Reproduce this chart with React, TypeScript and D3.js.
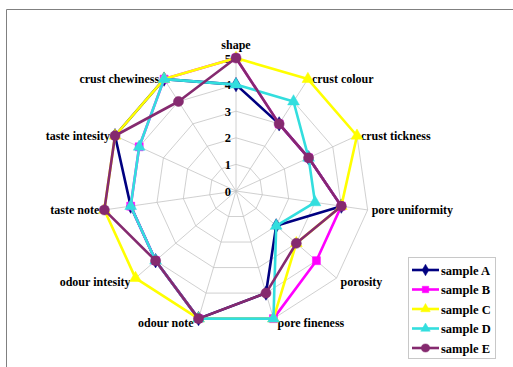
import React from "react";
import * as d3 from "d3";

const axesLabels = [
  "shape",
  "crust colour",
  "crust tickness",
  "pore uniformity",
  "porosity",
  "pore fineness",
  "odour note",
  "odour intesity",
  "taste note",
  "taste intesity",
  "crust chewiness",
];
const seriesNames = ["sample A", "sample B", "sample C", "sample D", "sample E"];
const sampleA = [4, 3, 3, 4, 2, 4, 5, 4, 4, 5, 5];
const sampleB = [5, 3, 3, 4, 4, 5, 5, 4, 4, 4, 5];
const sampleC = [5, 5, 5, 4, 3, 5, 5, 5, 5, 5, 5];
const sampleD = [4, 4, 3, 3, 2, 5, 5, 4, 4, 4, 5];
const sampleE = [5, 3, 3, 4, 3, 4, 5, 4, 5, 5, 4];
const tickValues = [0, 1, 2, 3, 4, 5];

const seriesData = [sampleA, sampleB, sampleC, sampleD, sampleE];
const colors = ["#000080", "#ff00ff", "#ffff00", "#33dede", "#852a6f"];
const markerTypes = ["diamond", "square", "triangle", "triangle", "circle"];

const W = 513;
const H = 367;
const cx = 236;
const cy = 191;
const R = 133;
const FONT = "'Liberation Serif', 'Times New Roman', serif";

const rScale = d3.scaleLinear().domain([0, 5]).range([0, R]);
const aScale = d3
  .scaleLinear()
  .domain([0, axesLabels.length])
  .range([0, 2 * Math.PI]);

function pt(i: number, v: number): [number, number] {
  const a = aScale(i);
  const r = rScale(v);
  return [cx + r * Math.sin(a), cy - r * Math.cos(a)];
}

function symbolPath(type: string, k = 1) {
  const map: Record<string, d3.SymbolType> = {
    diamond: d3.symbolDiamond,
    square: d3.symbolSquare,
    triangle: d3.symbolTriangle,
    circle: d3.symbolCircle,
  };
  const size: Record<string, number> = {
    diamond: 60,
    square: 64,
    triangle: 60,
    circle: 80,
  };
  return d3.symbol().type(map[type]).size(size[type] * k)() as string;
}

export default function App() {
  const line = d3
    .line<number>()
    .x((v, i) => pt(i, v)[0])
    .y((v, i) => pt(i, v)[1])
    .curve(d3.curveLinearClosed);

  const gridLine = d3.line<[number, number]>().curve(d3.curveLinearClosed);

  return (
    <svg
      width={W}
      height={H}
      style={{ position: "absolute", left: 0, top: 0, background: "#fff" }}
    >
      <rect x={0} y={0} width={W} height={H} fill="#fff" />
      {/* frame */}
      <line x1={6.5} y1={9.5} x2={W} y2={9.5} stroke="#808080" strokeWidth={1} />
      <line x1={6.5} y1={9.5} x2={6.5} y2={H} stroke="#808080" strokeWidth={1} />

      {/* grid */}
      {tickValues.slice(1).map((t) => (
        <path
          key={"g" + t}
          d={gridLine(axesLabels.map((_, i) => pt(i, t))) as string}
          fill="none"
          stroke="#c4c4c4"
          strokeWidth={0.8}
        />
      ))}
      {axesLabels.map((_, i) => {
        const [x, y] = pt(i, 5);
        return (
          <line
            key={"s" + i}
            x1={cx}
            y1={cy}
            x2={x}
            y2={y}
            stroke="#c4c4c4"
            strokeWidth={0.8}
          />
        );
      })}

      {/* tick labels */}
      {tickValues.map((t) => (
        <text
          key={"t" + t}
          x={cx - 5}
          y={pt(0, t)[1] + 4.5}
          textAnchor="end"
          fontFamily={FONT}
          fontWeight="bold"
          fontSize={12.5}
          fill="#000"
        >
          {t}
        </text>
      ))}

      {/* axis labels */}
      {axesLabels.map((lab, i) => {
        const [x, y] = pt(i, 5);
        let anchor = "middle";
        let tx = x;
        let ty = y;
        if (i === 0) {
          ty = y - 9;
        } else if (Math.sin(aScale(i)) > 0) {
          anchor = "start";
          tx = x + 4;
          ty = y + 4 + (i >= 4 ? 4 : 0);
        } else {
          anchor = "end";
          tx = x - 5;
          ty = y + 4 + (i <= 7 ? 4 : 0);
        }
        return (
          <text
            key={"l" + i}
            x={tx}
            y={ty}
            textAnchor={anchor}
            fontFamily={FONT}
            fontWeight="bold"
            fontSize={12}
            fill="#000"
          >
            {lab}
          </text>
        );
      })}

      {/* series */}
      {seriesData.map((vals, s) => (
        <g key={"ser" + s}>
          <path
            d={line(vals) as string}
            fill="none"
            stroke={colors[s]}
            strokeWidth={2.6}
            strokeLinejoin="round"
          />
          {vals.map((v, i) => {
            const [x, y] = pt(i, v);
            return (
              <path
                key={i}
                d={symbolPath(markerTypes[s])}
                transform={`translate(${x},${y})`}
                fill={colors[s]}
                stroke={colors[s]}
                strokeWidth={0.5}
              />
            );
          })}
        </g>
      ))}

      {/* legend */}
      <rect
        x={408.5}
        y={257.5}
        width={87}
        height={101}
        fill="#fff"
        stroke="#c8c8c8"
        strokeWidth={1}
      />
      {seriesNames.map((name, s) => {
        const y = 270 + s * 19.5;
        return (
          <g key={"lg" + s}>
            <line
              x1={412}
              y1={y}
              x2={439}
              y2={y}
              stroke={colors[s]}
              strokeWidth={2.6}
            />
            <path
              d={symbolPath(markerTypes[s], 0.65)}
              transform={`translate(${425.5},${y})`}
              fill={colors[s]}
              stroke={colors[s]}
              strokeWidth={0.5}
            />
            <text
              x={441}
              y={y + 4.5}
              fontFamily={FONT}
              fontWeight="bold"
              fontSize={12.5}
              fill="#000"
            >
              {name}
            </text>
          </g>
        );
      })}
    </svg>
  );
}
